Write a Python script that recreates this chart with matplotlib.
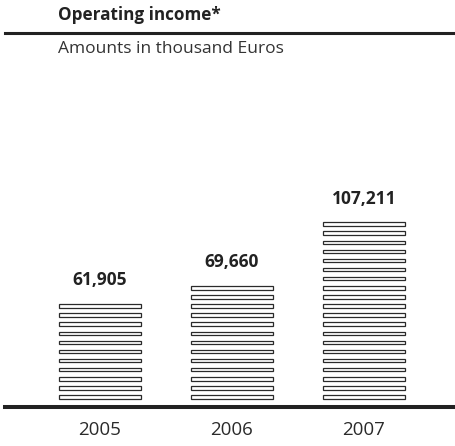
import matplotlib.pyplot as plt
from matplotlib.patches import Rectangle

# operating income, thousand EUR
years = ["2005", "2006", "2007"]
income = [61905, 69660, 107211]
labels = ["61,905", "69,660", "107,211"]

W, H, DPI = 455, 446, 100
plt.rcParams["font.family"] = ["Open Sans", "DejaVu Sans"]

fig = plt.figure(figsize=(W / DPI, H / DPI), dpi=DPI)
fig.patch.set_facecolor("white")

# axes spans from the bottom rule (y=407px) to the top rule (y=33px)
ax = fig.add_axes([5 / W, (H - 407) / H, 450 / W, 374 / H])
ax.set_xlim(-0.72, 2.69)
ax.set_ylim(0, 222000)

# each bar is a stack of thin outlined strips
pitch = 5400
gap0 = 4900
strip_h = 2100
bar_w = 0.62
for i, v in enumerate(income):
    n = int(round(v / pitch))
    for k in range(n):
        y0 = gap0 + k * pitch
        ax.add_patch(Rectangle((i - bar_w / 2, y0), bar_w, strip_h,
                               facecolor="white", edgecolor="#2a2a2a", linewidth=0.9))
    top = gap0 + (n - 1) * pitch + strip_h
    ax.annotate(labels[i], (i, top), xytext=(0, 13.5), textcoords="offset points",
                ha="center", va="baseline", fontsize=12.5, fontweight="bold", color="#222222")

ax.set_xticks(range(len(years)))
ax.set_xticklabels(years, fontsize=13.5, color="#2a2a2a")
ax.tick_params(axis="x", length=0, pad=10)
ax.set_yticks([])

for side in ["left", "right"]:
    ax.spines[side].set_visible(False)
ax.spines["bottom"].set_linewidth(2.9)
ax.spines["bottom"].set_color("#222222")
ax.spines["top"].set_linewidth(2.2)
ax.spines["top"].set_color("#222222")

fig.text(58 / W, 1 - 19.5 / H, "Operating income*", fontsize=12.3, fontweight="bold",
         color="#222222", ha="left", va="baseline")
fig.text(58 / W, 1 - 53 / H, "Amounts in thousand Euros", fontsize=12.5,
         color="#333333", ha="left", va="baseline")

fig.savefig("out.png", dpi=DPI, facecolor="white")
